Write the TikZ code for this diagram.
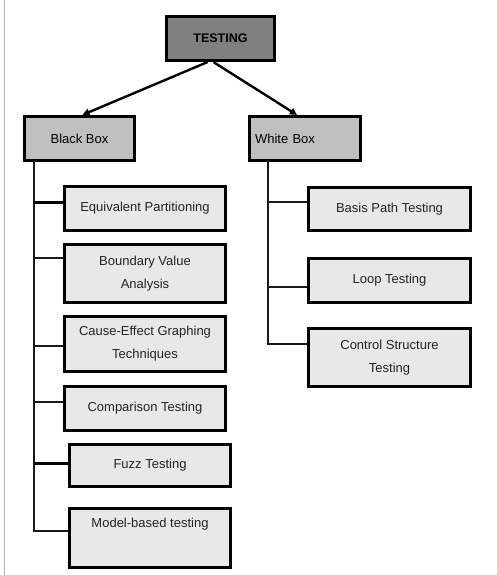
\documentclass[tikz,border=0pt]{standalone}
\usepackage{fontspec}
\setmainfont{Liberation Sans}
\usetikzlibrary{arrows.meta}
\definecolor{topfill}{RGB}{128,128,128}
\definecolor{midfill}{RGB}{192,192,192}
\definecolor{leaffill}{RGB}{232,232,232}
\definecolor{txt}{RGB}{35,35,35}
\tikzset{
  box/.style={draw=black, line width=3.2pt, inner sep=0pt, align=center,
    font=\fontsize{13}{23}\selectfont, text=txt},
  topbox/.style={box, fill=topfill, font=\fontsize{12.5}{15}\selectfont\bfseries, text=black},
  midbox/.style={box, fill=midfill, text=black},
  leafbox/.style={box, fill=leaffill},
  link/.style={line width=2pt, draw=black!90},
  boldlink/.style={line width=3pt, draw=black},
  arrowlink/.style={line width=2.4pt, -{Triangle[length=7pt,width=7pt]}},
}
\begin{document}
\begin{tikzpicture}[x=1pt,y=-1pt]
\useasboundingbox (0,0) rectangle (497,575);
\fill[white] (0,0) rectangle (497,575);
% page edge
\draw[black!30, line width=0.8pt] (4,0) -- (4,575);

% top level
\node[topbox, minimum width=108pt, minimum height=44pt] (tst) at (220.5,38.5) {TESTING};
\node[midbox, minimum width=110pt, minimum height=44pt] (bb) at (79.5,138.5) {Black Box};
\node[midbox, minimum width=111pt, minimum height=44pt, text width=100pt, align=left] (wb) at (305,138.5) {White Box};

\draw[arrowlink] ([xshift=-13pt]tst.south) -- ([xshift=3pt]bb.north);
\draw[arrowlink] ([xshift=-7pt]tst.south) -- ([xshift=-8pt]wb.north);

% black box techniques
\node[leafbox, minimum width=161pt, minimum height=44pt] (ep) at (145,208.5) {Equivalent Partitioning};
\node[leafbox, minimum width=161pt, minimum height=58pt] (bva) at (145,273.5) {Boundary Value\\Analysis};
\node[leafbox, minimum width=161pt, minimum height=55pt] (ce) at (145,344) {Cause-Effect Graphing\\Techniques};
\node[leafbox, minimum width=161pt, minimum height=44pt] (ct) at (145,408.5) {Comparison Testing};
\node[leafbox, minimum width=161pt, minimum height=42pt] (fz) at (150,465.5) {Fuzz Testing};
\node[leafbox, minimum width=161pt, minimum height=59pt, text depth=30pt] (mb) at (150,538) {Model-based testing};

\coordinate (ltop) at (34,160);
\coordinate (lbot) at (34,531);
\draw[link] (ltop) -- (lbot) -- ([yshift=7pt]mb.west);
\draw[boldlink] (ep.west |- 34,202) -- (34,202);
\draw[link] ([yshift=15.5pt]bva.west) -- (34,258);
\draw[link] ([yshift=-2pt]ce.west) -- (34,346);
\draw[link] ([yshift=6.5pt]ct.west) -- (34,402);
\draw[boldlink] ([yshift=2.5pt]fz.west) -- (34,463);

% white box techniques
\node[leafbox, minimum width=162pt, minimum height=43pt] (bp) at (389.5,209) {Basis Path Testing};
\node[leafbox, minimum width=162pt, minimum height=44pt] (lt) at (389.5,280.5) {Loop Testing};
\node[leafbox, minimum width=162pt, minimum height=58pt] (cs) at (389.5,357.5) {Control Structure\\Testing};

\coordinate (rtop) at (268,160);
\coordinate (rbot) at (268,344);
\draw[link] (rtop) -- (rbot) -- ([yshift=13.5pt]cs.west);
\draw[link] ([yshift=7pt]bp.west) -- (268,202);
\draw[link] ([yshift=-6.5pt]lt.west) -- (268,287);
\end{tikzpicture}
\end{document}
